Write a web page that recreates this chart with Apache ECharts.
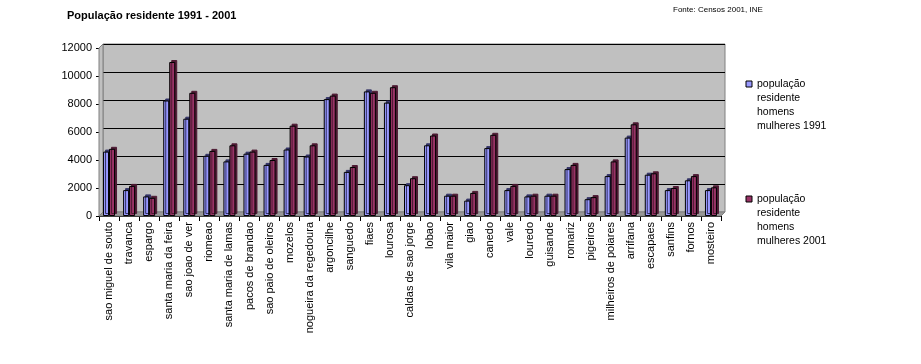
<!DOCTYPE html>
<html>
<head>
<meta charset="utf-8">
<script src="https://cdn.jsdelivr.net/npm/echarts@6/dist/echarts.min.js"></script>
<style>
html,body{margin:0;padding:0;background:#fff;}
#chart{width:921px;height:364px;}
</style>
</head>
<body>
<div id="chart"></div>
<script>
const categories = ["sao miguel de souto","travanca","espargo","santa maria da feira","sao joao de ver","riomeao","santa maria de lamas","pacos de brandao","sao paio de oleiros","mozelos","nogueira da regedoura","argoncilhe","sanguedo","fiaes","lourosa","caldas de sao jorge","lobao","vila maior","giao","canedo","vale","louredo","guisande","romariz","pigeiros","milheiros de poiares","arrifana","escapaes","sanfins","fornos","mosteiro"];
const pop1991 = [4600,1850,1400,8250,6950,4300,3900,4450,3650,4750,4250,8350,3150,8900,8100,2200,5050,1450,1100,4850,1850,1400,1450,3350,1200,2850,5600,2950,1850,2550,1850];
const pop2001 = [4800,2150,1300,11000,8800,4650,5050,4600,4000,6450,5050,8600,3500,8800,9200,2700,5750,1450,1650,5800,2150,1450,1450,3650,1350,3900,6550,3050,2000,2850,2050];
const seriesNames = ["população\nresidente\nhomens\nmulheres 1991","população\nresidente\nhomens\nmulheres 2001"];
const yTicks = {min:0, max:12000, interval:2000};

// layout constants (front plot and back wall offset)
const FL = 99, FR = 721, FT = 48, FB = 216; // front plot
const DX = 4, DY = 4; // 3D depth
const W = 921, H = 364;

const chart = echarts.init(document.getElementById('chart'), null, {renderer:'canvas'});
const font = 'Liberation Sans, Arial, sans-serif';
// legend icon: 6x6 square aligned with first text line of a 4-line label
const legendIcon = 'path://M0,0L0.01,0M0,4L6,4L6,10L0,10ZM0,56L0.01,56';

chart.setOption({
  animation:false,
  backgroundColor:'#ffffff',
  title:[
    {text:'População residente 1991 - 2001', left:67, top:10, padding:0,
     textStyle:{fontFamily:font, fontSize:11, fontWeight:'bold', color:'#000'}},
    {text:'Fonte: Censos 2001, INE', left:673, top:6, padding:0,
     textStyle:{fontFamily:font, fontSize:8, fontWeight:'normal', color:'#000'}}
  ],
  legend:{
    orient:'vertical', left:745.5, top:76.5, padding:0, itemGap:58,
    itemWidth:6, itemHeight:56, icon:legendIcon,
    itemStyle:{borderColor:'#000', borderWidth:1, shadowBlur:0, shadowOffsetX:0, shadowOffsetY:0, shadowColor:'rgba(0,0,0,0)'},
    textStyle:{fontFamily:font, fontSize:10.5, color:'#000', lineHeight:14},
    data:seriesNames
  },
  grid:[
    {left:FL+DX, right:W-FR-DX, top:FT-DY, bottom:H-FB+DY, show:true, backgroundColor:'#c0c0c0', borderColor:'#808080', borderWidth:1},
    {left:FL, right:W-FR, top:FT, bottom:H-FB}
  ],
  xAxis:[
    {gridIndex:0, type:'category', data:categories, show:false},
    {gridIndex:1, type:'category', data:categories,
     axisLine:{lineStyle:{color:'#000', width:1}},
     axisTick:{show:true, length:5, interval:0, lineStyle:{color:'#000'}},
     axisLabel:{interval:0, rotate:90, margin:6, fontFamily:font, fontSize:11, color:'#000'}}
  ],
  yAxis:[
    {gridIndex:0, type:'value', min:yTicks.min, max:yTicks.max, interval:yTicks.interval,
     axisLine:{show:false}, axisTick:{show:false}, axisLabel:{show:false},
     splitLine:{show:true, lineStyle:{color:'#000', width:1}}},
    {gridIndex:1, type:'value', min:yTicks.min, max:yTicks.max, interval:yTicks.interval,
     axisLine:{show:true, lineStyle:{color:'#000', width:1}},
     axisTick:{show:true, length:3, lineStyle:{color:'#000'}},
     axisLabel:{margin:7, fontFamily:font, fontSize:11, color:'#000', formatter:function(v){return String(v);}},
     splitLine:{show:false}}
  ],
  graphic:[
    {type:'polygon', z:1, shape:{points:[[FL,FB],[FL+DX,FB-DY],[FR+DX,FB-DY],[FR,FB]]},
     style:{fill:'#999999', stroke:'#808080', lineWidth:1}},
    {type:'polygon', z:1, shape:{points:[[FL,FT],[FL+DX,FT-DY],[FL+DX,FB-DY],[FL,FB]]},
     style:{fill:'#c0c0c0', stroke:'#808080', lineWidth:1}}
  ],
  series:[
    {name:seriesNames[0], type:'bar', xAxisIndex:1, yAxisIndex:1, data:pop1991,
     barWidth:6, barGap:'0%', z:3,
     itemStyle:{color:'#9999ff', borderColor:'#000', borderWidth:1,
       shadowColor:'#333366', shadowBlur:0, shadowOffsetX:2, shadowOffsetY:-2}},
    {name:seriesNames[1], type:'bar', xAxisIndex:1, yAxisIndex:1, data:pop2001,
     barWidth:6, barGap:'0%', z:3,
     itemStyle:{color:'#993366', borderColor:'#000', borderWidth:1,
       shadowColor:'#4d1a33', shadowBlur:0, shadowOffsetX:2, shadowOffsetY:-2}}
  ]
});
</script>
</body>
</html>
